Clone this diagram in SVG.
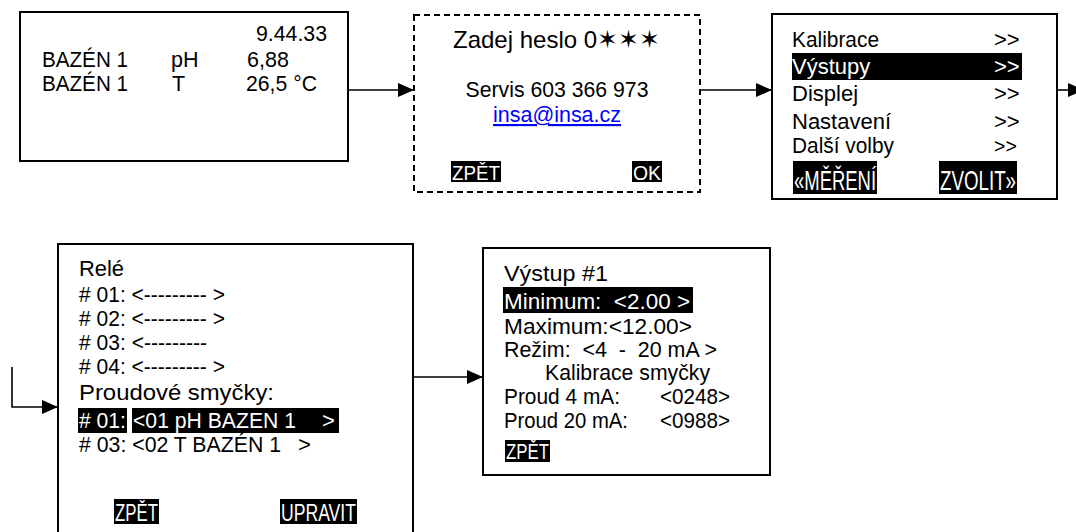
<svg xmlns="http://www.w3.org/2000/svg" width="1076" height="532" viewBox="0 0 1076 532">
<style>
.box{fill:#fff;stroke:#000;stroke-width:2}
.dash{stroke-dasharray:6 4}
.t{font-family:"Liberation Sans",Arial,"DejaVu Sans",sans-serif;font-size:21.5px;fill:#000;white-space:pre}
.m{font-size:22px}
.v{font-size:22.5px}
.w{fill:#fff}
.hl{fill:#000}
.btn{font-family:"Liberation Sans",Arial,sans-serif;fill:#fff}
.con{fill:none;stroke:#000;stroke-width:1.6}
</style>
<defs>
<marker id="ah" markerUnits="userSpaceOnUse" markerWidth="17" markerHeight="15" refX="16" refY="7" orient="auto">
<path d="M0,0 L16,7 L0,14 Z" fill="#000"/>
</marker>
</defs>

<g id="connectors">
<path class="con" d="M348,90 H414" marker-end="url(#ah)"/>
<path class="con" d="M700,90 H772" marker-end="url(#ah)"/>
<path class="con" d="M1057,90 H1084" marker-end="url(#ah)"/>
<path class="con" d="M12,367 V407 H58" marker-end="url(#ah)"/>
<path class="con" d="M413,377 H483" marker-end="url(#ah)"/>
</g>

<g id="n1">
<rect class="box" x="20" y="12" width="328" height="149"/>
<text class="t" x="256" y="41" textLength="71" lengthAdjust="spacingAndGlyphs">9.44.33</text>
<text class="t" x="42" y="67" textLength="86" lengthAdjust="spacingAndGlyphs">BAZÉN 1</text>
<text class="t" x="171" y="67">pH</text>
<text class="t" x="247" y="67">6,88</text>
<text class="t" x="42" y="91" textLength="86" lengthAdjust="spacingAndGlyphs">BAZÉN 1</text>
<text class="t" x="172" y="91">T</text>
<text class="t" x="246" y="91" textLength="71" lengthAdjust="spacingAndGlyphs">26,5 °C</text>
</g>

<g id="n2">
<rect class="box dash" x="414" y="15" width="286" height="177"/>
<text class="t" x="453" y="48" style="font-size:24px">Zadej heslo 0<tspan style="font-family:'DejaVu Sans',sans-serif;font-size:25px">✶✶✶</tspan></text>
<text class="t" x="557" y="97" text-anchor="middle" style="font-size:21.5px" textLength="183" lengthAdjust="spacingAndGlyphs">Servis 603 366 973</text>
<text class="t" x="557" y="122" text-anchor="middle" style="font-size:21.5px;fill:#0000ff;text-decoration:underline" textLength="128" lengthAdjust="spacingAndGlyphs">insa@insa.cz</text>
<rect class="hl" x="451" y="161" width="50" height="21"/>
<text class="btn" x="452" y="180" style="font-size:21px" textLength="48" lengthAdjust="spacingAndGlyphs">ZPĚT</text>
<rect class="hl" x="632" y="161" width="30" height="21"/>
<text class="btn" x="633" y="180" style="font-size:21px" textLength="28" lengthAdjust="spacingAndGlyphs">OK</text>
</g>

<g id="n3">
<rect class="box" x="772" y="14" width="285" height="185"/>
<text class="t m" x="792" y="47" textLength="87" lengthAdjust="spacingAndGlyphs">Kalibrace</text>
<text class="t m" x="994" y="47">&gt;&gt;</text>
<rect class="hl" x="792" y="53" width="230" height="27"/>
<text class="t m w" x="792" y="74">Výstupy</text>
<text class="t m w" x="994" y="74">&gt;&gt;</text>
<text class="t m" x="792" y="101">Displej</text>
<text class="t m" x="994" y="101">&gt;&gt;</text>
<text class="t m" x="792" y="129">Nastavení</text>
<text class="t m" x="994" y="129">&gt;&gt;</text>
<text class="t m" x="792" y="153" textLength="102" lengthAdjust="spacingAndGlyphs">Další volby</text>
<text class="t" x="994" y="153" style="font-size:19.5px">&gt;&gt;</text>
<rect class="hl" x="793" y="161" width="84" height="33"/>
<text class="btn" x="794" y="190" style="font-size:28px" textLength="82" lengthAdjust="spacingAndGlyphs">«MĚŘENÍ</text>
<rect class="hl" x="939" y="161" width="78" height="33"/>
<text class="btn" x="940" y="190" style="font-size:28px" textLength="76" lengthAdjust="spacingAndGlyphs">ZVOLIT»</text>
</g>

<g id="n4">
<rect class="box" x="58" y="244" width="355" height="300"/>
<text class="t m" x="79" y="276" textLength="45" lengthAdjust="spacingAndGlyphs">Relé</text>
<text class="t m" x="79" y="302" textLength="146" lengthAdjust="spacingAndGlyphs"># 01: &lt;--------- &gt;</text>
<text class="t m" x="79" y="326" textLength="146" lengthAdjust="spacingAndGlyphs"># 02: &lt;--------- &gt;</text>
<text class="t m" x="79" y="350" textLength="128" lengthAdjust="spacingAndGlyphs"># 03: &lt;---------</text>
<text class="t m" x="79" y="374" textLength="146" lengthAdjust="spacingAndGlyphs"># 04: &lt;--------- &gt;</text>
<text class="t m" x="79" y="400" textLength="195" lengthAdjust="spacingAndGlyphs">Proudové smyčky:</text>
<rect class="hl" x="78" y="408" width="49" height="25"/>
<text class="t m w" x="79" y="428" textLength="47" lengthAdjust="spacingAndGlyphs"># 01:</text>
<rect class="hl" x="132" y="408" width="207" height="25"/>
<text class="t m w" x="133" y="428" textLength="163" lengthAdjust="spacingAndGlyphs">&lt;01 pH BAZEN 1</text>
<text class="t m w" x="322" y="428">&gt;</text>
<text class="t m" x="79" y="452" textLength="202" lengthAdjust="spacingAndGlyphs"># 03: &lt;02 T BAZÉN 1</text>
<text class="t m" x="298" y="452">&gt;</text>
<rect class="hl" x="114" y="499" width="45" height="25"/>
<text class="btn" x="115" y="521" style="font-size:23px" textLength="43" lengthAdjust="spacingAndGlyphs">ZPĚT</text>
<rect class="hl" x="280" y="499" width="77" height="25"/>
<text class="btn" x="281" y="521" style="font-size:23px" textLength="75" lengthAdjust="spacingAndGlyphs">UPRAVIT</text>
</g>

<g id="n5">
<rect class="box" x="483" y="248" width="287" height="227"/>
<text class="t v" x="504" y="281" textLength="104" lengthAdjust="spacingAndGlyphs">Výstup #1</text>
<rect class="hl" x="503" y="287" width="190" height="26"/>
<text class="t v w" x="504" y="309" textLength="186" lengthAdjust="spacingAndGlyphs">Minimum:  &lt;2.00 &gt;</text>
<text class="t v" x="504" y="334" textLength="188" lengthAdjust="spacingAndGlyphs">Maximum:&lt;12.00&gt;</text>
<text class="t v" x="504" y="357" textLength="213" lengthAdjust="spacingAndGlyphs">Režim:  &lt;4  -  20 mA &gt;</text>
<text class="t v" x="545" y="380" textLength="165" lengthAdjust="spacingAndGlyphs">Kalibrace smyčky</text>
<text class="t v" x="504" y="404" textLength="116" lengthAdjust="spacingAndGlyphs">Proud 4 mA:</text>
<text class="t v" x="660" y="404" textLength="70" lengthAdjust="spacingAndGlyphs">&lt;0248&gt;</text>
<text class="t v" x="504" y="428" textLength="124" lengthAdjust="spacingAndGlyphs">Proud 20 mA:</text>
<text class="t v" x="660" y="428" textLength="70" lengthAdjust="spacingAndGlyphs">&lt;0988&gt;</text>
<rect class="hl" x="505" y="440" width="45" height="22"/>
<text class="btn" x="506" y="459" style="font-size:22px" textLength="43" lengthAdjust="spacingAndGlyphs">ZPĚT</text>
</g>
</svg>
